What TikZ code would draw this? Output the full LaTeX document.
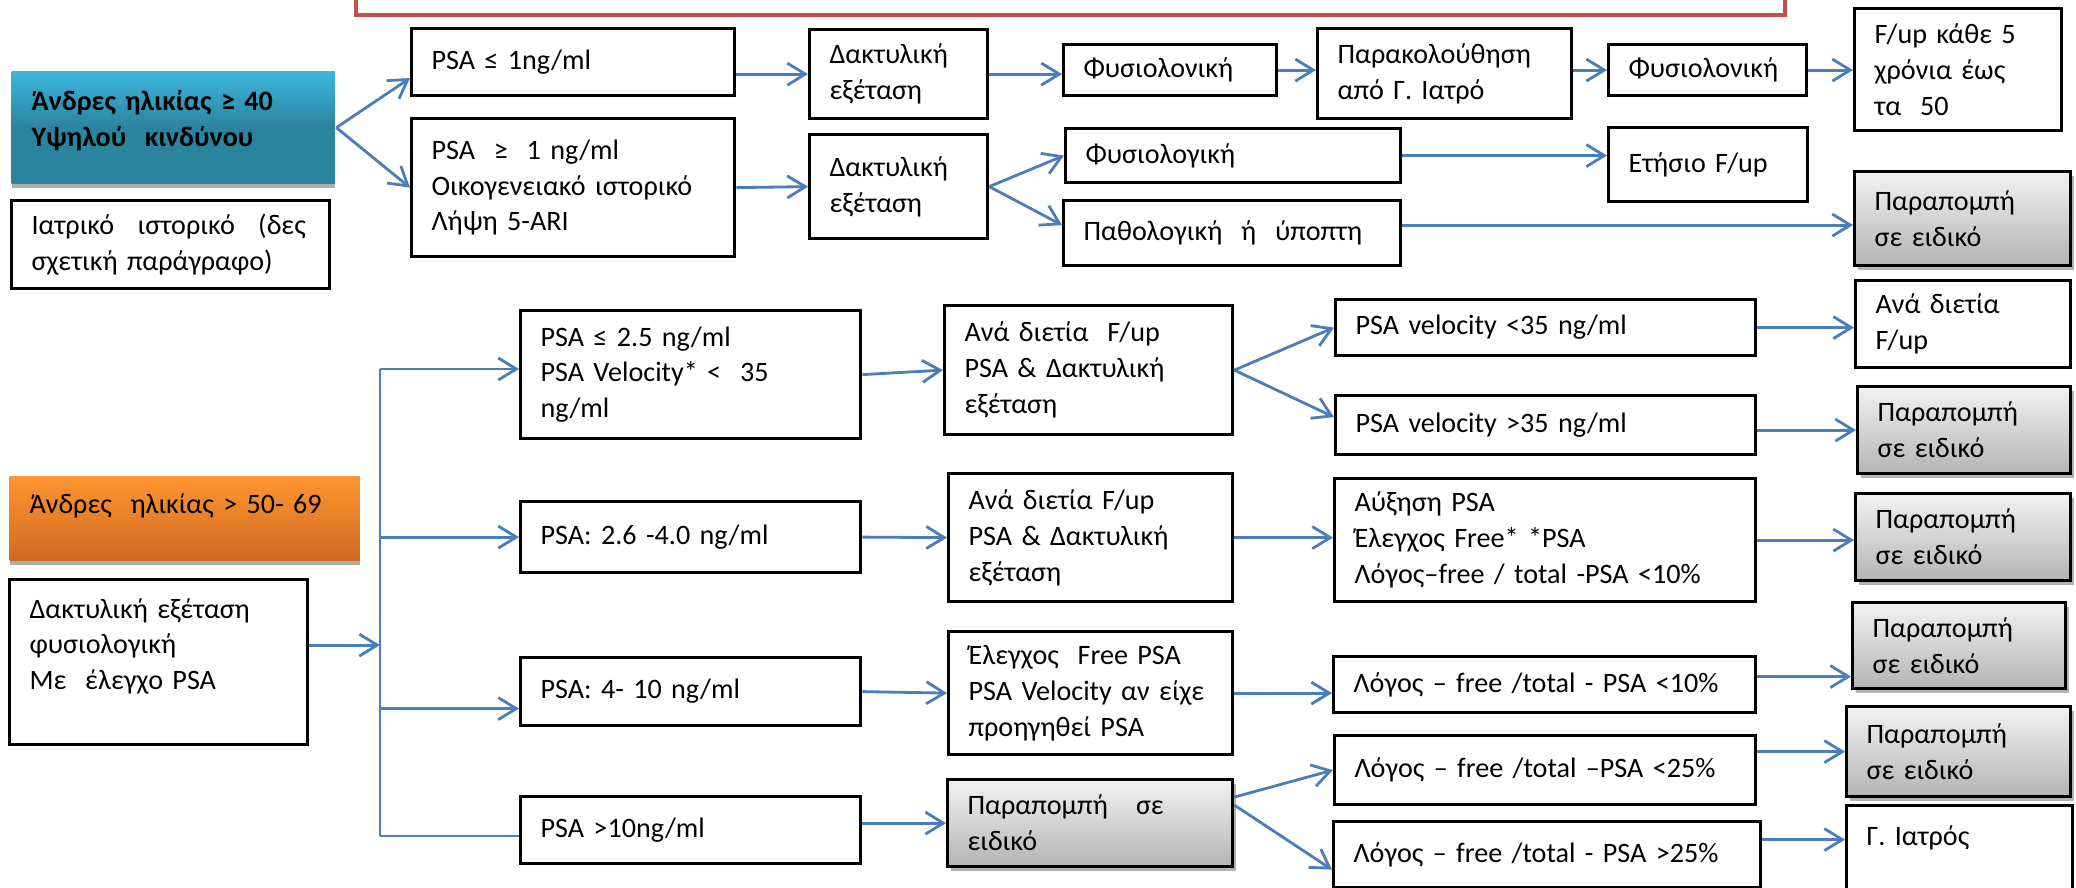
\documentclass[tikz,border=0pt]{standalone}
\usepackage{fontspec}
\setmainfont{Carlito}
\usetikzlibrary{arrows.meta,positioning,calc,shadows}
\definecolor{Link}{HTML}{4A7EBB}
\definecolor{Frame}{HTML}{C0504D}
\definecolor{TealTop}{HTML}{3DB6DC}
\definecolor{Teal}{HTML}{2A849F}
\definecolor{OrangeTop}{HTML}{FF9530}
\definecolor{OrangeLow}{HTML}{D06A22}
\definecolor{GreyTop}{HTML}{F2F2F2}
\definecolor{GreyLow}{HTML}{B4B4B4}

\begin{document}
\begin{tikzpicture}[x=0.01cm,y=-0.01cm,
    box/.style={rectangle,draw=black,line width=0.9pt,fill=white,anchor=north west,align=left,inner xsep=0.2cm,inner ysep=0pt,font=\fontsize{8}{10.2}\selectfont},
    refer/.style={box,top color=GreyTop,bottom color=GreyLow,drop shadow={shadow xshift=0.03cm,shadow yshift=-0.04cm,fill=gray!60,opacity=1}},
    group/.style={box,draw=none,drop shadow={shadow xshift=0cm,shadow yshift=-0.04cm,fill=gray!65,opacity=1}},
    arrow/.style={-{Straight Barb[length=1.8mm,width=2.2mm]},line width=0.8pt,draw=Link},
    link/.style={line width=0.8pt,draw=Link}
]
\fill[white] (0,0) rectangle (2076,888);
\useasboundingbox (0,0) rectangle (2076,888);
\draw[line width=1.3pt,draw=Frame] (356,-80) rectangle (1785,15);

\node[group,top color=TealTop,bottom color=Teal,middle color=Teal,text width=2.83cm,minimum height=1.12cm,text depth=0.54cm,font=\fontsize{8}{10.2}\selectfont\bfseries] (risk) at (10,70) {Άνδρες ηλικίας ≥ 40\\Υψηλού\ \ κινδύνου};
\node[box,text width=2.78cm,minimum height=0.88cm] (hist) at (10,199) {Ιατρικό \enspace ιστορικό \enspace (δες\\σχετική παράγραφο)};
\node[box,text width=2.83cm,minimum height=0.67cm] (psa1) at (410,27) {PSA ≤ 1ng/ml};
\node[box,text width=2.83cm,minimum height=1.38cm] (psa2) at (410,117) {PSA\ \ ≥\ \ 1 ng/ml\\Οικογενειακό ιστορικό\\Λήψη 5-ARI};
\node[box,text width=1.38cm,minimum height=0.89cm] (dre1) at (808,28) {Δακτυλική\\εξέταση};
\node[box,text width=1.38cm,minimum height=1.04cm] (dre2) at (808,133) {Δακτυλική\\εξέταση};
\node[box,text width=1.73cm,minimum height=0.51cm] (norm1) at (1062,43) {Φυσιολονική};
\node[box,text width=2.14cm,minimum height=0.90cm] (gp) at (1316,27) {Παρακολούθηση\\από Γ. Ιατρό};
\node[box,text width=1.58cm,minimum height=0.51cm] (norm2) at (1607,43) {Φυσιολονική};
\node[box,text width=1.67cm,minimum height=1.22cm] (five) at (1853,7) {F/up κάθε 5\\χρόνια έως\\τα\ \ 50};
\node[box,text width=2.95cm,minimum height=0.54cm] (norm3) at (1064,127) {Φυσιολογική};
\node[box,text width=1.59cm,minimum height=0.74cm] (yearly) at (1607,126) {Ετήσιο F/up};
\node[box,text width=2.97cm,minimum height=0.65cm] (abn) at (1062,199) {Παθολογική\ \ ή\ \ ύποπτη};
\node[refer,text width=1.76cm,minimum height=0.94cm] (ref1) at (1853,170) {Παραπομπή\\σε ειδικό};

\node[group,top color=OrangeTop,bottom color=OrangeLow,text width=3.10cm,minimum height=0.84cm,text depth=0.3cm] (age) at (8,475) {Άνδρες\ \ ηλικίας > 50- 69};
\node[box,text width=2.58cm,minimum height=1.65cm,text depth=1.08cm] (dreN) at (8,578) {Δακτυλική εξέταση\\φυσιολογική\\Με\ \ έλεγχο PSA};
\node[box,text width=3.00cm,minimum height=1.28cm] (psa25) at (519,309) {PSA ≤ 2.5 ng/ml\\PSA Velocity* <\ \ 35\\ng/ml};
\node[box,text width=3.00cm,minimum height=0.71cm] (psa26) at (519,500) {PSA: 2.6 -4.0 ng/ml};
\node[box,text width=3.00cm,minimum height=0.68cm] (psa410) at (519,656) {PSA: 4- 10 ng/ml};
\node[box,text width=3.00cm,minimum height=0.67cm] (psa10) at (519,795) {PSA >10ng/ml};
\node[box,text width=2.48cm,minimum height=1.29cm] (bien1) at (943,304) {Ανά διετία\ \ F/up\\PSA \& Δακτυλική\\εξέταση};
\node[box,text width=2.44cm,minimum height=1.28cm] (bien2) at (947,472) {Ανά διετία F/up\\PSA \& Δακτυλική\\εξέταση};
\node[box,text width=2.44cm,minimum height=1.23cm] (free) at (947,630) {Έλεγχος\ \ Free PSA\\PSA Velocity αν είχε\\προηγηθεί PSA};
\node[refer,text width=2.45cm,minimum height=0.87cm] (refm) at (946,778) {Παραπομπή\quad σε\\ειδικό};
\node[box,text width=3.80cm,minimum height=0.56cm] (vlo) at (1334,298) {PSA velocity <35 ng/ml};
\node[box,text width=3.80cm,minimum height=0.59cm] (vhi) at (1334,394) {PSA velocity >35 ng/ml};
\node[box,text width=3.81cm,minimum height=1.23cm] (rise) at (1333,477) {Αύξηση PSA\\Έλεγχος Free* *PSA\\Λόγος–free / total -PSA <10\%};
\node[box,text width=3.82cm,minimum height=0.56cm] (r10) at (1332,655) {Λόγος – free /total - PSA <10\%};
\node[box,text width=3.81cm,minimum height=0.69cm] (r25lo) at (1333,734) {Λόγος – free /total –PSA <25\%};
\node[box,text width=3.87cm,minimum height=0.66cm] (r25hi) at (1332,820) {Λόγος – free /total - PSA >25\%};
\node[box,text width=1.75cm,minimum height=0.87cm] (bienR) at (1854,279) {Ανά διετία\\F/up};
\node[refer,text width=1.73cm,minimum height=0.87cm] (ref2) at (1856,385) {Παραπομπή\\σε ειδικό};
\node[refer,text width=1.75cm,minimum height=0.87cm] (ref3) at (1854,492) {Παραπομπή\\σε ειδικό};
\node[refer,text width=1.73cm,minimum height=0.86cm] (ref4) at (1851,601) {Παραπομπή\\σε ειδικό};
\node[refer,text width=1.84cm,minimum height=0.90cm] (ref5) at (1845,705) {Παραπομπή\\σε ειδικό};
\node[box,text width=1.86cm,minimum height=0.90cm,text depth=0.3cm] (gpR) at (1845,804) {Γ. Ιατρός};

\draw[arrow] (risk.east) -- ([yshift=-0.16cm]psa1.west);
\draw[arrow] (risk.east) -- (psa2.west);
\draw[arrow] (psa1.east |- dre1.west) -- (dre1.west);
\draw[arrow] (psa2.east) -- (dre2.west);
\draw[arrow] (dre1.east) -- (dre1.east -| norm1.west);
\draw[arrow] (norm1.east) -- (norm1.east -| gp.west);
\draw[arrow] (norm2.west -| gp.east) -- (norm2.west);
\draw[arrow] (norm2.east) -- (norm2.east -| five.west);
\draw[arrow] (dre2.east) -- (norm3.west);
\draw[arrow] (dre2.east) -- ([yshift=0.08cm]abn.west);
\draw[arrow] (norm3.east) -- (norm3.east -| yearly.west);
\draw[arrow] ([yshift=0.08cm]abn.east) -- ([yshift=0.08cm]abn.east -| ref1.west);

\coordinate (top) at (380,369);
\coordinate (bottom) at (380,836);
\draw[link] (top) -- (bottom);
\draw[arrow] ([yshift=0.17cm]dreN.east) -- ([yshift=0.17cm]dreN.east -| top);
\draw[arrow] (top) -- (top -| psa25.west);
\draw[arrow] (top |- psa26.west) -- (psa26.west);
\draw[arrow] ([yshift=-0.17cm]psa410.west -| top) -- ([yshift=-0.17cm]psa410.west);
\draw[link] (bottom) -- (bottom -| psa10.west);
\draw[arrow] (psa25.east) -- (bien1.west);
\draw[arrow] (psa26.east) -- (bien2.west);
\draw[arrow] (psa410.east) -- (free.west);
\draw[arrow] (psa10.east |- refm.west) -- (refm.west);
\draw[arrow] (bien1.east) -- (vlo.west);
\draw[arrow] (bien1.east) -- ([yshift=0.08cm]vhi.west);
\draw[arrow] (vlo.east) -- (vlo.east -| bienR.west);
\draw[arrow] (vhi.east |- ref2.west) -- (ref2.west);
\draw[arrow] (bien2.east) -- (bien2.east -| rise.west);
\draw[arrow] (rise.east) -- (rise.east -| ref3.west);
\draw[arrow] (free.east) -- (free.east -| r10.west);
\draw[arrow] ([yshift=0.26cm]refm.east) -- (r25lo.west);
\draw[arrow] ([yshift=0.18cm]refm.east) -- ([yshift=-0.15cm]r25hi.west);
\draw[arrow] ([yshift=0.08cm]r10.east) -- ([yshift=0.08cm]r10.east -| ref4.west);
\draw[arrow] (r25lo.east |- ref5.west) -- (ref5.west);
\draw[arrow] ([yshift=0.15cm]r25hi.east) -- ([yshift=0.15cm]r25hi.east -| gpR.west);
\end{tikzpicture}
\end{document}
